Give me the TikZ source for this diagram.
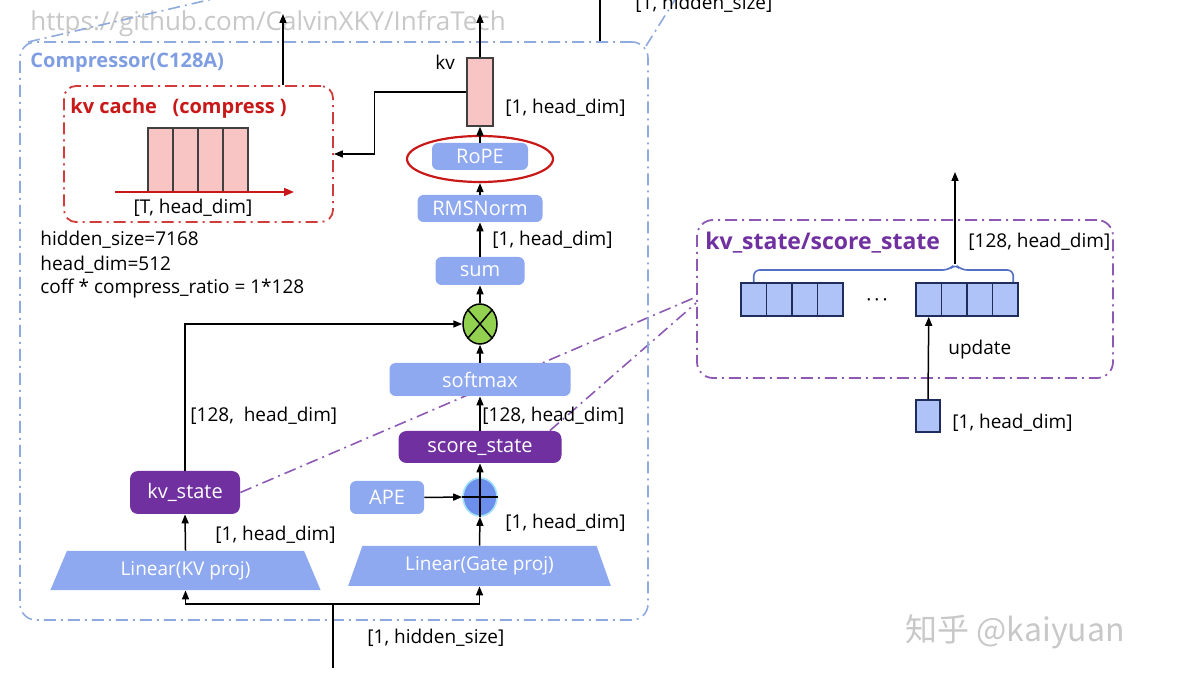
\documentclass[tikz,border=0pt]{standalone}
\usepackage{fontspec}
\setmainfont{Open Sans}
\newfontfamily\cjkfont{Noto Sans CJK SC}
\usetikzlibrary{arrows.meta,shapes.geometric,backgrounds}

\definecolor{boxblue}{HTML}{8FA9F0}
\definecolor{frameblue}{HTML}{8FAADC}
\definecolor{titleblue}{HTML}{7F9EE2}
\definecolor{deeppurple}{HTML}{7030A0}
\definecolor{kvred}{HTML}{C81818}
\definecolor{kvpink}{HTML}{F8C4C4}
\definecolor{cellblue}{HTML}{AFC3F8}
\definecolor{celledge}{HTML}{1F2D5C}
\definecolor{bracecol}{HTML}{5470C6}
\definecolor{mulgreen}{HTML}{92D050}
\definecolor{addblue}{HTML}{6B8FEA}
\definecolor{markgray}{HTML}{C8C8C8}

\tikzset{
  dashdot/.style={dash pattern=on 6pt off 2.5pt on 1pt off 2.5pt},
  arr/.style={-{Triangle[length=4.5pt,width=3.5pt]}, line width=0.75pt},
  opbox/.style={rounded corners=3pt, fill=boxblue, text=white, inner sep=0pt,
    font=\fontsize{10}{12}\selectfont},
  statebox/.style={rounded corners=4pt, fill=deeppurple, text=white, inner sep=0pt,
    font=\fontsize{10}{12}\selectfont},
  proj/.style={trapezium, trapezium stretches=true, fill=boxblue, text=white,
    inner sep=0pt, trapezium left angle=64, trapezium right angle=64},
  cell/.style={draw=celledge, fill=cellblue, line width=0.8pt,
    minimum width=12.75pt, minimum height=16.5pt, inner sep=0pt},
  kvcell/.style={draw=black!75, fill=kvpink, line width=0.6pt, inner sep=0pt},
  dimlabel/.style={anchor=west, inner sep=0pt},
}

\begin{document}
\begin{tikzpicture}[x=0.5pt,y=-0.5pt,font=\fontsize{9.5}{11.5}\selectfont]
  \useasboundingbox (0,0) rectangle (1200,689);
  \clip (0,0) rectangle (1200,689);
  % watermarks
  \node[dimlabel, text=markgray, font=\fontsize{13}{15}\selectfont] (wm1) at (30,24) {https://github.com/CalvinXKY/InfraTech};
  \node[dimlabel, text=markgray, font=\cjkfont\fontsize{16}{18}\selectfont] (wm2) at (905,632) {知乎 @kaiyuan};
  % rest of the outer figure
  \coordinate (zl0) at (28,42);  \coordinate (zl1) at (217,-2);
  \coordinate (zr0) at (646,46); \coordinate (zr1) at (676,-2);
  \coordinate (hin0) at (600,42); \coordinate (hin1) at (600,-2);
  \draw[frameblue, dashdot, line width=0.8pt] (zl0) -- (zl1);
  \draw[frameblue, dashdot, line width=0.8pt] (zr0) -- (zr1);
  \draw[line width=0.75pt] (hin0) -- (hin1);
  \node[dimlabel] (hidtop) at (635,4) {[1, hidden\_size]};

  % compressor frame
  \node[draw=frameblue, dashdot, rounded corners=8pt, line width=0.8pt,
    minimum width=314pt, minimum height=289pt] (comp) at (334,331) {};
  \node[dimlabel, text=titleblue, font=\fontsize{10}{12}\selectfont\bfseries] (comptitle) at (30,63) {Compressor(C128A)};

  % kv cache
  \node[draw=kvred!85!white, dashdot, rounded corners=6pt, line width=0.9pt,
    minimum width=134.5pt, minimum height=68pt] (kvcache) at (198.5,154) {};
  \node[dimlabel, text=kvred, font=\fontsize{10}{12}\selectfont\bfseries] (cachetitle) at (70,108) {kv cache\ \ \ (compress )};
  \foreach \i in {0,...,3}
    \node[kvcell, minimum width=12.5pt, minimum height=32pt] (kc\i) at ({160.5+25*\i},160) {};
  \coordinate (tl) at (115,192); \coordinate (tr) at (294,192);
  \draw[-{Triangle[length=5pt,width=4pt]}, kvred, line width=0.9pt] (tl) -- (tr);
  \node (cachedim) at (193,208) {[T, head\_dim]};

  % settings
  \node[dimlabel] (n1) at (40,240) {hidden\_size=7168};
  \node[dimlabel] (n2) at (40,265) {head\_dim=512};
  \node[dimlabel] (n3) at (40,289) {coff * compress\_ratio = 1*128};

  % main column
  \node[kvcell, line width=0.7pt, minimum width=13pt, minimum height=34pt] (kv) at (480,92) {};
  \node[anchor=east] (kvlab) at (462,62) {kv};
  \node[opbox, minimum width=48pt, minimum height=13.5pt] (rope) at (480,156.5) {RoPE};
  \node[ellipse, draw=kvred, line width=1.1pt, minimum width=73pt, minimum height=23pt] (ring) at (480,159) {};
  \node[opbox, minimum width=62.5pt, minimum height=13.5pt] (rms) at (480,208.5) {RMSNorm};
  \node[opbox, minimum width=44.5pt, minimum height=14pt] (sum) at (480,271) {sum};
  \node[ellipse, draw, fill=mulgreen, line width=0.75pt, inner sep=0pt,
    minimum width=17pt, minimum height=20pt] (mul) at (480,324) {};
  \node[opbox, minimum width=90.5pt, minimum height=16.5pt] (soft) at (480,379.5) {softmax};
  \node[statebox, minimum width=81.5pt, minimum height=16pt] (score) at (480,447) {score\_state};
  \node[ellipse, draw=cyan!35, fill=addblue, line width=0.8pt, inner sep=0pt,
    minimum width=17pt, minimum height=19pt] (add) at (480,497) {};
  \node[opbox, minimum width=37pt, minimum height=16.5pt] (ape) at (387,497.5) {APE};
  \node[proj, minimum width=131.5pt, minimum height=20pt] (gate) at (479.5,566) {Linear(Gate proj)};
  \draw[line width=0.75pt] (mul.north west) -- (mul.south east) (mul.north east) -- (mul.south west);
  \draw[line width=0.75pt] (add.north) -- (add.south) (add.west) -- (add.east);

  % kv column
  \node[statebox, minimum width=55pt, minimum height=21.5pt] (kvst) at (185,492.5) {kv\_state};
  \node[proj, minimum width=135.5pt, minimum height=19.5pt] (kvlin) at (185.5,570.5) {Linear(KV proj)};

  % shapes
  \node[dimlabel] (d1) at (505,108) {[1, head\_dim]};
  \node[dimlabel] (d2) at (492,240) {[1, head\_dim]};
  \node[dimlabel] (d3) at (482,416) {[128, head\_dim]};
  \node[dimlabel] (d4) at (505,523) {[1, head\_dim]};
  \node[dimlabel] (d5) at (215,535) {[1, head\_dim]};
  \node[dimlabel] (d6) at (190,416) {[128,\ \ head\_dim]};
  \node[dimlabel] (d7) at (367,638) {[1, hidden\_size]};

  % connectors
  \coordinate (cacheout) at (283,14);
  \coordinate (kvout) at (480,14);
  \coordinate (inp) at (333,668);
  \coordinate (split) at (333,604);
  \draw[arr] (kvcache.north -| cacheout) -- (cacheout);
  \draw[arr] (kv.north) -- (kvout);
  \draw[arr] (kv.west) -- ++(-92,0) |- (kvcache.east);
  \draw[arr] (rope.north) -- (kv.south);
  \draw[arr] (rms.north) -- (ring.south);
  \draw[arr] (sum.north) -- (rms.south);
  \draw[arr] (mul.north) -- (sum.south);
  \draw[arr] (soft.north) -- (mul.south);
  \draw[arr] (score.north) -- (soft.south);
  \draw[arr] (add.north) -- (score.south);
  \draw[arr] (ape.east) -- (add.west);
  \draw[arr] (gate.north) -- (add.south);
  \draw[arr] (kvlin.north) -- (kvst.south);
  \draw[arr] (kvst.north) |- (mul.west);
  \draw[line width=0.75pt] (inp) -- (split);
  \draw[arr] (split) -| (kvlin.south);
  \draw[arr] (split) -| (gate.south);

  % kv_state / score_state buffer
  \node[draw=deeppurple!80, dashdot, rounded corners=8pt, line width=0.9pt,
    minimum width=208pt, minimum height=79pt] (stbox) at (905,299) {};
  \node[dimlabel, text=deeppurple, font=\fontsize{11.5}{13}\selectfont\bfseries] (sttitle) at (705,243) {kv\_state/score\_state};
  \node[dimlabel] (d8) at (968,242) {[128, head\_dim]};
  \foreach \i in {0,...,3} {
    \node[cell] (a\i) at ({753.75+25.5*\i},299.5) {};
    \node[cell] (b\i) at ({928.75+25.5*\i},299.5) {};
  }
  \node (dots) at (877,303) {·\,·\,·};
  \coordinate (bt) at (955,264);
  \coordinate (stout) at (955,172);
  \draw[bracecol, line width=0.8pt, rounded corners=3pt]
    (a0.north) |- (949,270) -- (bt) -- (961,270) -| ([xshift=4pt]b3.north);
  \draw[arr] (bt) -- (stout);
  \node[cell, minimum width=12pt, minimum height=16pt] (upd) at (928,416) {};
  \draw[arr] (upd.north) -- (b0.south);
  \node[dimlabel] (updlab) at (948,350) {update};
  \node[dimlabel] (d9) at (952,423) {[1, head\_dim]};

  % zoom lines to the buffer
  \begin{scope}[on background layer]
    \draw[deeppurple!80, dashdot, line width=0.8pt] (kvst.east) -- ([yshift=1pt]stbox.west);
    \draw[deeppurple!80, dashdot, line width=0.8pt] ([xshift=-6pt]score.north east) -- ([yshift=-2pt]stbox.west);
  \end{scope}
\end{tikzpicture}
\end{document}
